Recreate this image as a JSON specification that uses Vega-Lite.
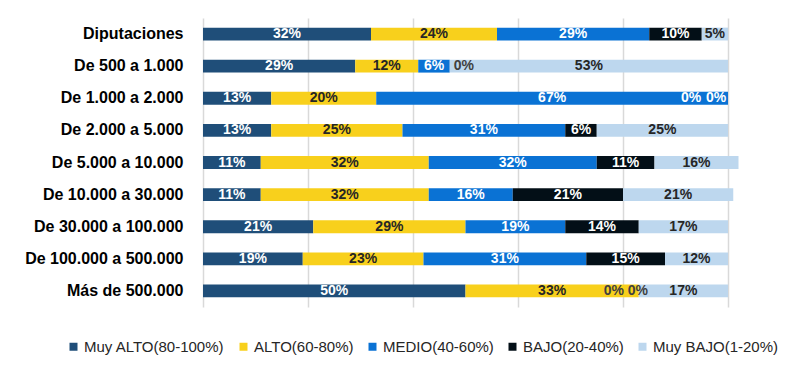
{
  "$schema": "https://vega.github.io/schema/vega-lite/v6.json",
  "autosize": {"type": "none"},
  "padding": {"left": 203, "top": 18, "right": 72, "bottom": 61},
  "width": 525,
  "height": 289,
  "background": "white",
  "config": {
    "view": {"stroke": null},
    "font": "Liberation Sans"
  },
  "data": {
    "values": [
      {"cat": "Diputaciones", "level": "Muy ALTO(80-100%)", "value": 32},
      {"cat": "Diputaciones", "level": "ALTO(60-80%)", "value": 24},
      {"cat": "Diputaciones", "level": "MEDIO(40-60%)", "value": 29},
      {"cat": "Diputaciones", "level": "BAJO(20-40%)", "value": 10},
      {"cat": "Diputaciones", "level": "Muy BAJO(1-20%)", "value": 5},
      {"cat": "De 500 a 1.000", "level": "Muy ALTO(80-100%)", "value": 29},
      {"cat": "De 500 a 1.000", "level": "ALTO(60-80%)", "value": 12},
      {"cat": "De 500 a 1.000", "level": "MEDIO(40-60%)", "value": 6},
      {"cat": "De 500 a 1.000", "level": "BAJO(20-40%)", "value": 0},
      {"cat": "De 500 a 1.000", "level": "Muy BAJO(1-20%)", "value": 53},
      {"cat": "De 1.000 a 2.000", "level": "Muy ALTO(80-100%)", "value": 13},
      {"cat": "De 1.000 a 2.000", "level": "ALTO(60-80%)", "value": 20},
      {"cat": "De 1.000 a 2.000", "level": "MEDIO(40-60%)", "value": 67},
      {"cat": "De 1.000 a 2.000", "level": "BAJO(20-40%)", "value": 0},
      {"cat": "De 1.000 a 2.000", "level": "Muy BAJO(1-20%)", "value": 0},
      {"cat": "De 2.000 a 5.000", "level": "Muy ALTO(80-100%)", "value": 13},
      {"cat": "De 2.000 a 5.000", "level": "ALTO(60-80%)", "value": 25},
      {"cat": "De 2.000 a 5.000", "level": "MEDIO(40-60%)", "value": 31},
      {"cat": "De 2.000 a 5.000", "level": "BAJO(20-40%)", "value": 6},
      {"cat": "De 2.000 a 5.000", "level": "Muy BAJO(1-20%)", "value": 25},
      {"cat": "De 5.000 a 10.000", "level": "Muy ALTO(80-100%)", "value": 11},
      {"cat": "De 5.000 a 10.000", "level": "ALTO(60-80%)", "value": 32},
      {"cat": "De 5.000 a 10.000", "level": "MEDIO(40-60%)", "value": 32},
      {"cat": "De 5.000 a 10.000", "level": "BAJO(20-40%)", "value": 11},
      {"cat": "De 5.000 a 10.000", "level": "Muy BAJO(1-20%)", "value": 16},
      {"cat": "De 10.000 a 30.000", "level": "Muy ALTO(80-100%)", "value": 11},
      {"cat": "De 10.000 a 30.000", "level": "ALTO(60-80%)", "value": 32},
      {"cat": "De 10.000 a 30.000", "level": "MEDIO(40-60%)", "value": 16},
      {"cat": "De 10.000 a 30.000", "level": "BAJO(20-40%)", "value": 21},
      {"cat": "De 10.000 a 30.000", "level": "Muy BAJO(1-20%)", "value": 21},
      {"cat": "De 30.000 a 100.000", "level": "Muy ALTO(80-100%)", "value": 21},
      {"cat": "De 30.000 a 100.000", "level": "ALTO(60-80%)", "value": 29},
      {"cat": "De 30.000 a 100.000", "level": "MEDIO(40-60%)", "value": 19},
      {"cat": "De 30.000 a 100.000", "level": "BAJO(20-40%)", "value": 14},
      {"cat": "De 30.000 a 100.000", "level": "Muy BAJO(1-20%)", "value": 17},
      {"cat": "De 100.000 a 500.000", "level": "Muy ALTO(80-100%)", "value": 19},
      {"cat": "De 100.000 a 500.000", "level": "ALTO(60-80%)", "value": 23},
      {"cat": "De 100.000 a 500.000", "level": "MEDIO(40-60%)", "value": 31},
      {"cat": "De 100.000 a 500.000", "level": "BAJO(20-40%)", "value": 15},
      {"cat": "De 100.000 a 500.000", "level": "Muy BAJO(1-20%)", "value": 12},
      {"cat": "Más de 500.000", "level": "Muy ALTO(80-100%)", "value": 50},
      {"cat": "Más de 500.000", "level": "ALTO(60-80%)", "value": 33},
      {"cat": "Más de 500.000", "level": "MEDIO(40-60%)", "value": 0},
      {"cat": "Más de 500.000", "level": "BAJO(20-40%)", "value": 0},
      {"cat": "Más de 500.000", "level": "Muy BAJO(1-20%)", "value": 17}
    ]
  },
  "transform": [
    {"calculate": "indexof(['Muy ALTO(80-100%)','ALTO(60-80%)','MEDIO(40-60%)','BAJO(20-40%)','Muy BAJO(1-20%)'], datum.level)", "as": "ord"},
    {"stack": "value", "groupby": ["cat"], "sort": [{"field": "ord", "order": "ascending"}], "as": ["x0", "x1"], "offset": "zero"},
    {"calculate": "(datum.x0 + datum.x1) / 2", "as": "mid"},
    {"calculate": "datum.value + '%'", "as": "lbl"}
  ],
  "encoding": {
    "y": {
      "field": "cat",
      "type": "nominal",
      "sort": ["Diputaciones", "De 500 a 1.000", "De 1.000 a 2.000", "De 2.000 a 5.000", "De 5.000 a 10.000", "De 10.000 a 30.000", "De 30.000 a 100.000", "De 100.000 a 500.000", "Más de 500.000"],
      "scale": {"paddingInner": 0.6, "paddingOuter": 0.3},
      "axis": {
        "title": null,
        "ticks": false,
        "domain": false,
        "labelPadding": 20,
        "labelFont": "Liberation Sans",
        "labelFontSize": 16,
        "labelFontWeight": "bold",
        "labelColor": "#000000"
      }
    }
  },
  "layer": [
    {
      "mark": {"type": "bar"},
      "encoding": {
        "x": {
          "field": "x0",
          "type": "quantitative",
          "scale": {"domain": [0, 100], "nice": false},
          "axis": {
            "title": null,
            "labels": false,
            "ticks": false,
            "domain": false,
            "grid": true,
            "values": [0, 20, 40, 60, 80, 100],
            "gridColor": "#d9d9d9",
            "gridWidth": 1.5
          }
        },
        "x2": {"field": "x1"},
        "color": {
          "field": "level",
          "type": "nominal",
          "sort": ["Muy ALTO(80-100%)", "ALTO(60-80%)", "MEDIO(40-60%)", "BAJO(20-40%)", "Muy BAJO(1-20%)"],
          "scale": {
            "domain": ["Muy ALTO(80-100%)", "ALTO(60-80%)", "MEDIO(40-60%)", "BAJO(20-40%)", "Muy BAJO(1-20%)"],
            "range": ["#1F4E79", "#F8D01C", "#0A72D4", "#030F17", "#BDD7EE"]
          },
          "legend": {
            "title": null,
            "orient": "none",
            "legendX": -137,
            "legendY": 321,
            "direction": "horizontal",
            "symbolType": "square",
            "symbolSize": 64,
            "symbolStrokeWidth": 0,
            "labelFont": "Liberation Sans",
            "labelFontSize": 15,
            "labelColor": "#262626",
            "labelOffset": 3,
            "columnPadding": 11
          }
        }
      }
    },
    {
      "transform": [{"filter": "datum.value > 0"}],
      "mark": {"type": "text", "font": "Liberation Sans", "fontSize": 14, "fontWeight": "bold", "baseline": "middle", "align": "center"},
      "encoding": {
        "x": {"field": "mid", "type": "quantitative"},
        "text": {"field": "lbl"},
        "color": {
          "condition": {"test": "datum.level === 'ALTO(60-80%)' || datum.level === 'Muy BAJO(1-20%)'", "value": "#262626"},
          "value": "#ffffff"
        }
      }
    },
    {
      "transform": [{"filter": "datum.cat === 'De 500 a 1.000' && datum.value === 0"}],
      "mark": {"type": "text", "font": "Liberation Sans", "fontSize": 14, "fontWeight": "bold", "baseline": "middle", "align": "center", "dx": 14, "color": "#404040"},
      "encoding": {"x": {"field": "mid", "type": "quantitative"}, "text": {"field": "lbl"}}
    },
    {
      "transform": [{"filter": "datum.cat === 'De 1.000 a 2.000' && datum.level === 'BAJO(20-40%)'"}],
      "mark": {"type": "text", "font": "Liberation Sans", "fontSize": 14, "fontWeight": "bold", "baseline": "middle", "align": "center", "dx": -37, "color": "#ffffff"},
      "encoding": {"x": {"field": "mid", "type": "quantitative"}, "text": {"field": "lbl"}}
    },
    {
      "transform": [{"filter": "datum.cat === 'De 1.000 a 2.000' && datum.level === 'Muy BAJO(1-20%)'"}],
      "mark": {"type": "text", "font": "Liberation Sans", "fontSize": 14, "fontWeight": "bold", "baseline": "middle", "align": "center", "dx": -12, "color": "#ffffff"},
      "encoding": {"x": {"field": "mid", "type": "quantitative"}, "text": {"field": "lbl"}}
    },
    {
      "transform": [{"filter": "datum.cat === 'Más de 500.000' && datum.level === 'MEDIO(40-60%)'"}],
      "mark": {"type": "text", "font": "Liberation Sans", "fontSize": 14, "fontWeight": "bold", "baseline": "middle", "align": "center", "dx": -25, "color": "#404040"},
      "encoding": {"x": {"field": "mid", "type": "quantitative"}, "text": {"field": "lbl"}}
    },
    {
      "transform": [{"filter": "datum.cat === 'Más de 500.000' && datum.level === 'BAJO(20-40%)'"}],
      "mark": {"type": "text", "font": "Liberation Sans", "fontSize": 14, "fontWeight": "bold", "baseline": "middle", "align": "center", "dx": -1, "color": "#404040"},
      "encoding": {"x": {"field": "mid", "type": "quantitative"}, "text": {"field": "lbl"}}
    }
  ]
}
